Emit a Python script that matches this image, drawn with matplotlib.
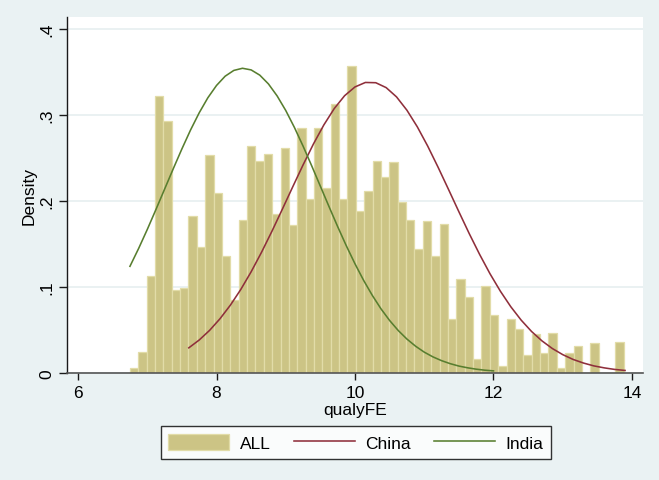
import matplotlib
matplotlib.use("Agg")
import matplotlib.pyplot as plt
from matplotlib.patches import Patch
from matplotlib.lines import Line2D

# ---- data ----
bin_start = 6.748
bin_width = 0.1209
all_density = [0.006, 0.024, 0.112, 0.322, 0.293, 0.096, 0.098, 0.182, 0.146, 0.253,
               0.209, 0.136, 0.084, 0.178, 0.264, 0.246, 0.254, 0.184, 0.261, 0.172,
               0.285, 0.202, 0.285, 0.215, 0.313, 0.202, 0.357, 0.188, 0.211, 0.246,
               0.227, 0.245, 0.198, 0.178, 0.144, 0.176, 0.136, 0.173, 0.062, 0.109,
               0.088, 0.016, 0.101, 0.067, 0.008, 0.063, 0.051, 0.020, 0.045, 0.023,
               0.046, 0.005, 0.023, 0.031, 0.000, 0.035, 0.000, 0.000, 0.036]

india_x = [6.75, 6.875, 7.0, 7.125, 7.25, 7.375, 7.5, 7.625, 7.75, 7.875, 8.0,
           8.125, 8.25, 8.375, 8.5, 8.625, 8.75, 8.875, 9.0, 9.125, 9.25, 9.375,
           9.5, 9.625, 9.75, 9.875, 10.0, 10.125, 10.25, 10.375, 10.5, 10.625,
           10.75, 10.875, 11.0, 11.125, 11.25, 11.375, 11.5, 11.625, 11.75, 11.875, 12.0]
india_y = [0.1237, 0.1444, 0.1665, 0.1897, 0.2134, 0.2371, 0.2602, 0.2822,
           0.3022, 0.3197, 0.3340, 0.3448, 0.3515, 0.3540, 0.3521, 0.3460,
           0.3358, 0.3219, 0.3049, 0.2852, 0.2635, 0.2405, 0.2168, 0.1931,
           0.1698, 0.1475, 0.1266, 0.1073, 0.0899, 0.0743, 0.0607, 0.0490,
           0.0391, 0.0308, 0.0239, 0.0184, 0.0140, 0.0105, 0.0077, 0.0057,
           0.0041, 0.0029, 0.0021]

china_x = [7.6, 7.75, 7.9, 8.05, 8.2, 8.35, 8.5, 8.65, 8.8, 8.95, 9.1, 9.25,
           9.4, 9.55, 9.7, 9.85, 10.0, 10.15, 10.3, 10.45, 10.6, 10.75, 10.9,
           11.05, 11.2, 11.35, 11.5, 11.65, 11.8, 11.95, 12.1, 12.25, 12.4,
           12.55, 12.7, 12.85, 13.0, 13.15, 13.3, 13.45, 13.6, 13.75, 13.9]
china_y = [0.0289, 0.0380, 0.0492, 0.0627, 0.0785, 0.0967, 0.1173, 0.1400,
           0.1644, 0.1900, 0.2160, 0.2416, 0.2660, 0.2881, 0.3071, 0.3221,
           0.3323, 0.3375, 0.3372, 0.3315, 0.3207, 0.3052, 0.2859, 0.2635,
           0.2389, 0.2132, 0.1872, 0.1617, 0.1375, 0.1150, 0.0947, 0.0767,
           0.0611, 0.0479, 0.0370, 0.0281, 0.0210, 0.0154, 0.0112, 0.0079,
           0.0056, 0.0038, 0.0026]

x_ticks = [6, 8, 10, 12, 14]
y_ticks = [0, 0.1, 0.2, 0.3, 0.4]
y_tick_labels = ["0", ".1", ".2", ".3", ".4"]
legend_labels = ["ALL", "China", "India"]

# ---- style ----
BG = "#EAF2F3"
BAR_FACE = "#CCC485"
BAR_EDGE = "#E2DCA8"
CHINA_C = "#8F2F3B"
INDIA_C = "#587E2F"

plt.rcParams["font.family"] = ["Liberation Sans", "DejaVu Sans"]

fig = plt.figure(figsize=(6.59, 4.81), dpi=100, facecolor=BG)
ax = fig.add_axes([0.1021, 0.2231, 0.8736, 0.7389])
ax.set_facecolor("white")

lefts = [bin_start + i * bin_width for i in range(len(all_density))]
ax.bar(lefts, all_density, width=bin_width, align="edge",
       color=BAR_FACE, edgecolor=BAR_EDGE, linewidth=0.9, zorder=2)
ax.plot(china_x, china_y, color=CHINA_C, linewidth=1.15, zorder=3)
ax.plot(india_x, india_y, color=INDIA_C, linewidth=1.15, zorder=3)

ax.set_xlim(5.845, 14.159)
ax.set_ylim(0, 0.4133)
ax.set_xticks(x_ticks)
ax.set_xticklabels([str(t) for t in x_ticks])
ax.set_yticks(y_ticks)
ax.set_yticklabels(y_tick_labels, rotation=90, va="center")
ax.yaxis.grid(True, color="#E6EFF0", linewidth=1.2)
ax.set_axisbelow(True)

for s in ("top", "right"):
    ax.spines[s].set_visible(False)
ax.spines["left"].set_color("#1a1a1a")
ax.spines["left"].set_linewidth(1.0)
ax.spines["bottom"].set_color("#555555")
ax.spines["bottom"].set_linewidth(1.2)
ax.tick_params(axis="x", direction="out", length=5, width=1.0, color="#1a1a1a",
               labelsize=12.5, pad=4)
ax.tick_params(axis="y", direction="out", length=6, width=1.0, color="#1a1a1a",
               labelsize=12.5, pad=3)

ax.set_xlabel("qualyFE", fontsize=12.5, labelpad=1)
ax.set_ylabel("Density", fontsize=12.5, labelpad=2.4)

handles = [Patch(facecolor=BAR_FACE, edgecolor=BAR_EDGE, linewidth=0.9),
           Line2D([], [], color=CHINA_C, linewidth=1.15),
           Line2D([], [], color=INDIA_C, linewidth=1.15)]
leg = fig.legend(handles, legend_labels, loc="center", bbox_to_anchor=(0.540, 0.078),
                 ncol=3, fontsize=12.5, frameon=True, fancybox=False,
                 handlelength=3.5, handleheight=1.0, handletextpad=0.6,
                 columnspacing=1.35, borderpad=0.45, borderaxespad=0)
leg.get_frame().set_edgecolor("black")
leg.get_frame().set_linewidth(1.0)
leg.get_frame().set_facecolor("white")

fig.savefig("out.png", dpi=100, facecolor=BG)
